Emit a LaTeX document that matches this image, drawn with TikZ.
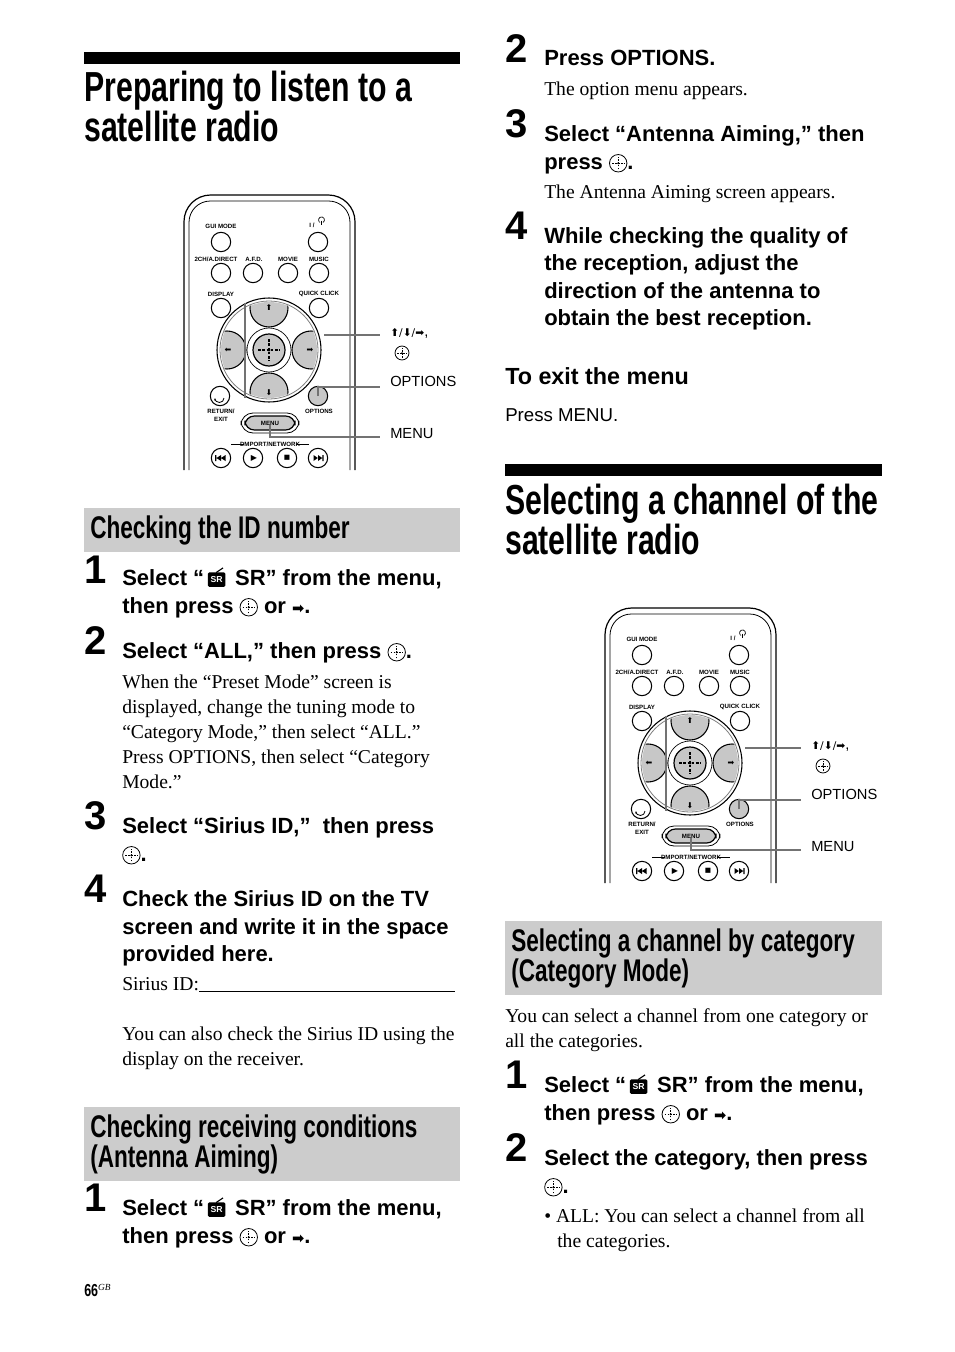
\documentclass[tikz,border=0pt]{standalone}
\usepackage{fontspec}
\usetikzlibrary{arrows.meta}
\setmainfont{Liberation Serif}
\setsansfont{Liberation Sans}
\newfontfamily\cond[FakeStretch=0.72]{Liberation Sans}
\newfontfamily\dv{DejaVu Sans}
\newcommand{\ent}[1][1]{\tikz[baseline=-0.5ex,x=1cm,y=1cm,scale=#1]{\draw[line width=0.6pt] (0,0) circle (0.23);\draw[line width=0.5pt,dash pattern=on 1.2pt off 1pt] (-0.16,0)--(0.16,0) (0,-0.16)--(0,0.16);\fill (0,0) circle (0.03);}}
\newcommand{\sr}{\tikz[baseline=-0.3ex,x=1cm,y=1cm]{\fill[rounded corners=1pt] (0,-0.14) rectangle (0.46,0.24);\draw[line width=0.8pt] (0.22,0.24)--(0.4,0.36);\node[anchor=center,white,font=\sffamily\bfseries\fontsize{6.5}{6.5}\selectfont,inner sep=0] at (0.23,0.05) {SR};}}
\newcommand{\ar}{{\dv\fontsize{11}{11}\selectfont ➡}}
\begin{document}
\begin{tikzpicture}[x=0.75pt,y=-0.75pt,
  stp/.style={anchor=mid west,inner sep=0,yshift=-3pt,font=\sffamily\bfseries\fontsize{16.5}{16.5}\selectfont},
  num/.style={anchor=mid west,inner sep=0,yshift=-4pt,font=\sffamily\bfseries\fontsize{30}{30}\selectfont},
  bod/.style={anchor=mid west,inner sep=0,yshift=-2pt,font=\fontsize{14.7}{14.7}\selectfont},
  hd/.style={anchor=mid west,inner sep=0,yshift=-7pt,font=\cond\bfseries\fontsize{31.5}{31.5}\selectfont},
  bh/.style={anchor=mid west,inner sep=0,yshift=-4pt,font=\cond\bfseries\fontsize{23.5}{23.5}\selectfont},
  rl/.style={inner sep=0,font=\sffamily\bfseries\fontsize{4.6}{4.6}\selectfont},
  cl/.style={anchor=mid west,inner sep=0,font=\sffamily\fontsize{11}{11}\selectfont},
  btn/.style={draw,line width=0.8pt,circle,minimum size=14.5pt,inner sep=0},
  remote/.pic={
    \draw[line width=0.9pt,rounded corners=20] (0,275)--(0,0)--(171,0)--(171,275);
    \draw[line width=0.6pt,rounded corners=16] (5,275)--(5,6)--(166,6)--(166,275);
    \node[rl] (-l1) at (37,31) {GUI MODE};
    \node[rl] (-l2) at (128,30) {I /};
    \draw[line width=0.5pt] (139,27.5) arc (60:-240:3); \draw[line width=0.5pt] (137.5,25.5)--(137.5,29.5);
    \node[btn] (-b1) at (37,47) {}; \node[btn] (-b2) at (134,47) {};
    \node[rl] (-l3) at (32,64) {2CH/A.DIRECT}; \node[rl] (-l4) at (70,64) {A.F.D.};
    \node[rl] (-l5) at (104,64) {MOVIE}; \node[rl] (-l6) at (135,64) {MUSIC};
    \foreach \x/\n in {37/3,69/4,104/5,135/6} \node[btn] (-b\n) at (\x,78) {};
    \node[rl] (-l7) at (37,99) {DISPLAY}; \node[rl] (-l8) at (135,99) {QUICK CLICK};
    \node[btn] (-b7) at (37,113) {}; \node[btn] (-b8) at (135,113) {};
    \fill[white] (85,155) circle (52);
    \draw[line width=0.8pt] (85,155) circle (52); \draw[line width=0.6pt,gray] (85,155) circle (49);
    \begin{scope}
      \clip (85,155) circle (48);
      \foreach \p in {(85,113),(85,197),(43,155),(127,155)}
        \draw[fill=black!22,line width=0.8pt] \p circle (19);
    \end{scope}
    \foreach \p/\a in {(85,112)/⬆,(85,198)/⬇,(44,155)/⬅,(126,155)/➡}
      \node[inner sep=0,font=\dv\fontsize{6}{6}\selectfont] at \p {\a};
    \draw[line width=0.5pt] (85,155) circle (22);
    \draw[fill=black!22,line width=0.9pt] (85,155) circle (16);
    \draw[line width=0.9pt,dash pattern=on 2pt off 1.2pt] (74,155)--(96,155) (85,144)--(85,166);
    \fill (85,155) circle (1.6);
    \node[btn] (-b9) at (36,201) {};
    \draw[line width=0.6pt,-{Stealth[length=2pt]}] (40,203) arc (0:180:4.5);
    \node[btn,fill=black!22] (-b10) at (134,201) {};
    \node[rl] (-l9) at (37,216) {RETURN/}; \node[rl] (-l10) at (37,224) {EXIT};
    \node[rl] (-l11) at (135,216) {OPTIONS};
    \draw[line width=0.6pt,rounded corners=9] (57,218) rectangle (115,238);
    \draw[line width=0.9pt,fill=black!22,rounded corners=7] (61,221) rectangle (111,235);
    \node[rl] (-l12) at (86,228) {MENU};
    \node[rl] (-l13) at (86,249) {DMPORT/NETWORK};
    \draw[line width=0.5pt] (47,249)--(60,249) (112,249)--(125,249);
    \foreach \x/\n in {37/11,69/12,103/13,134/14} \node[btn] (-b\n) at (\x,263) {};
    \fill (31,260) rectangle (32.3,266) (37,260)--(32.5,263)--(37,266)--cycle (41.5,260)--(37,263)--(41.5,266)--cycle;
    \node[inner sep=0,font=\dv\fontsize{6}{6}\selectfont] at (70,263) {▶};
    \node[inner sep=0,font=\dv\fontsize{5}{5}\selectfont] at (103,263) {■};
    \fill (139.7,260) rectangle (138.4,266) (134,260)--(138.2,263)--(134,266)--cycle (129.5,260)--(133.8,263)--(129.5,266)--cycle;
    \coordinate (-c1) at (196,140); \coordinate (-c2) at (196,192); \coordinate (-c3) at (196,242);
    \draw[line width=0.9pt,black!55] (61,108)--(61,203);
    \draw[line width=0.9pt,black!55] (140,140)--(-c1);
    \draw[line width=0.9pt,black!55] (-b10.center)--(134,192)--(-c2);
    \draw[line width=0.9pt,black!55] (86,230)--(86,242)--(-c3);
    \node[cl] (-t1) at (206,138) {{\dv\fontsize{8}{8}\selectfont ⬆/⬇/➡},};
    \node[anchor=center,inner sep=0] (-t2) at (218,158) {\ent[0.8]};
    \node[cl] (-t3) at (206,188) {OPTIONS};
    \node[cl] (-t4) at (206,240) {MENU};
  }]
\useasboundingbox (0,0) rectangle (954,1352);
% left column
\fill (84,52) rectangle (460,64);
\node[hd] (h1) at (84,89) {Preparing to listen to a};
\node[hd] (h2) at (84,129) {satellite radio};
\pic (r1) at (184,195) {remote};
\fill[black!20] (84,508) rectangle (460,552);
\node[bh] (bx1) at (90,530) {Checking the ID number};
\node[num] (n1) at (84,575) {1};
\node[stp] (s1a) at (122,578) {Select “\,\sr\, SR” from the menu,};
\node[stp] (s1b) at (122,606) {then press \ent\ or \ar.};
\node[num] (n2) at (84,646) {2};
\node[stp] (s2a) at (122,651) {Select “ALL,” then press \ent.};
\node[bod] (b2a) at (122,683) {When the “Preset Mode” screen is};
\node[bod] (b2b) at (122,708) {displayed, change the tuning mode to};
\node[bod] (b2c) at (122,733) {“Category Mode,” then select “ALL.”};
\node[bod] (b2d) at (122,758) {Press OPTIONS, then select “Category};
\node[bod] (b2e) at (122,783) {Mode.”};
\node[num] (n3) at (84,821) {3};
\node[stp] (s3a) at (122,826) {Select “Sirius ID,”\ \ then press};
\node[stp] (s3b) at (122,854) {\ent.};
\node[num] (n4) at (84,894) {4};
\node[stp] (s4a) at (122,899) {Check the Sirius ID on the TV};
\node[stp] (s4b) at (122,927) {screen and write it in the space};
\node[stp] (s4c) at (122,954) {provided here.};
\node[bod] (b4a) at (122,985) {Sirius ID:\rule[-1pt]{192pt}{0.5pt}};
\node[bod] (b4b) at (122,1035) {You can also check the Sirius ID using the};
\node[bod] (b4c) at (122,1060) {display on the receiver.};
\fill[black!20] (84,1107) rectangle (460,1181);
\node[bh] (bx2a) at (90,1129) {Checking receiving conditions};
\node[bh] (bx2b) at (90,1159) {(Antenna Aiming)};
\node[num] (n5) at (84,1203) {1};
\node[stp] (s5a) at (122,1208) {Select “\,\sr\, SR” from the menu,};
\node[stp] (s5b) at (122,1236) {then press \ent\ or \ar.};
\node[anchor=mid west,inner sep=0,font=\cond\bfseries\fontsize{13}{13}\selectfont] (pg) at (84,1293) {66\textsuperscript{\normalfont\itshape\fontsize{7}{7}\selectfont GB}};
% right column
\node[num] (m2) at (505,54) {2};
\node[stp] (r2a) at (544,58) {Press OPTIONS.};
\node[bod] (rb2) at (544,90) {The option menu appears.};
\node[num] (m3) at (505,129) {3};
\node[stp] (r3a) at (544,134) {Select “Antenna Aiming,” then};
\node[stp] (r3b) at (544,162) {press \ent.};
\node[bod] (rb3) at (544,193) {The Antenna Aiming screen appears.};
\node[num] (m4) at (505,231) {4};
\node[stp] (r4a) at (544,236) {While checking the quality of};
\node[stp] (r4b) at (544,263) {the reception, adjust the};
\node[stp] (r4c) at (544,291) {direction of the antenna to};
\node[stp] (r4d) at (544,318) {obtain the best reception.};
\node[anchor=mid west,inner sep=0,yshift=-3pt,font=\sffamily\bfseries\fontsize{17.5}{17.5}\selectfont] (ex) at (505,377) {To exit the menu};
\node[anchor=mid west,inner sep=0,yshift=-3pt,font=\sffamily\fontsize{14}{14}\selectfont] (exb) at (505,414) {Press MENU.};
\fill (505,464) rectangle (882,476);
\node[hd] (h3) at (505,502) {Selecting a channel of the};
\node[hd] (h4) at (505,542) {satellite radio};
\pic (r2) at (605,608) {remote};
\fill[black!20] (505,921) rectangle (882,995);
\node[bh] (bx3a) at (511,943) {Selecting a channel by category};
\node[bh] (bx3b) at (511,973) {(Category Mode)};
\node[bod] (rc1) at (505,1017) {You can select a channel from one category or};
\node[bod] (rc2) at (505,1042) {all the categories.};
\node[num] (m5) at (505,1080) {1};
\node[stp] (r5a) at (544,1085) {Select “\,\sr\, SR” from the menu,};
\node[stp] (r5b) at (544,1113) {then press \ent\ or \ar.};
\node[num] (m6) at (505,1153) {2};
\node[stp] (r6a) at (544,1158) {Select the category, then press};
\node[stp] (r6b) at (544,1186) {\ent.};
\node[bod] (rb6a) at (544,1217) {• ALL: You can select a channel from all};
\node[bod] (rb6b) at (557,1242) {the categories.};
\end{tikzpicture}
\end{document}
